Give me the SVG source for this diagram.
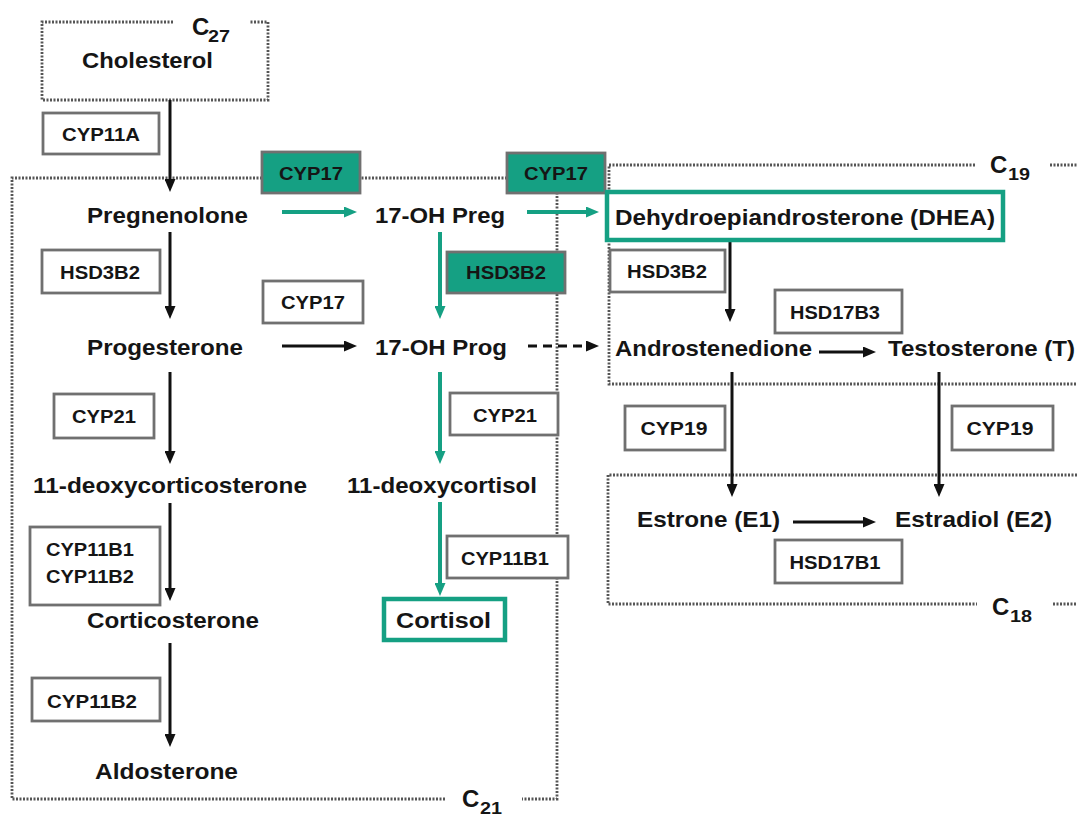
<svg xmlns="http://www.w3.org/2000/svg" width="1077" height="818" viewBox="0 0 1077 818">
<style>
.t{font-family:"Liberation Sans",Arial,Helvetica,sans-serif;font-weight:bold;fill:#151515}
.m{font-size:22px}
.b{font-size:18px;text-anchor:middle}
.c{font-size:24px}
.s{font-size:16px}
.box{fill:#fff;stroke:#707070;stroke-width:2.8}
.gbox{fill:#15a083;stroke:#707070;stroke-width:2.8}
.hl{fill:#fff;stroke:#15a083;stroke-width:4.5}
.dot{fill:none;stroke:#555;stroke-width:2.8;stroke-dasharray:2 1.5}
.ka{fill:none;stroke:#111;stroke-width:3;marker-end:url(#ah)}
.kd{fill:none;stroke:#111;stroke-width:3;stroke-dasharray:9 6;marker-end:url(#ah)}
.ga{fill:none;stroke:#15a083;stroke-width:4;marker-end:url(#gh)}
</style>
<defs>
<marker id="ah" viewBox="0 0 13 11" refX="7" refY="5.5" markerWidth="13" markerHeight="11" markerUnits="userSpaceOnUse" orient="auto">
<path d="M0,0 L13,5.5 L0,11 z" fill="#111"/>
</marker>
<marker id="gh" viewBox="0 0 13 11" refX="7" refY="5.5" markerWidth="13" markerHeight="11" markerUnits="userSpaceOnUse" orient="auto">
<path d="M0,0 L13,5.5 L0,11 z" fill="#15a083"/>
</marker>
</defs>
<rect width="1077" height="818" fill="#fff"/>

<g id="compartments">
<path class="dot" d="M173,22 H42 V100 H268 V22 H250"/>
<text class="t c" x="192" y="35">C</text><text class="t s" x="208" y="42" textLength="22" lengthAdjust="spacingAndGlyphs">27</text>
<path class="dot" d="M445,799 H12 V178 H557 V799 H522"/>
<text class="t c" x="462" y="807">C</text><text class="t s" x="480" y="814" textLength="22" lengthAdjust="spacingAndGlyphs">21</text>
<path class="dot" d="M975,165 H609 V384 H1077 M1050,165 H1077"/>
<text class="t c" x="990" y="173">C</text><text class="t s" x="1008" y="180" textLength="22" lengthAdjust="spacingAndGlyphs">19</text>
<path class="dot" d="M1077,475 H608 V604 H977 M1053,604 H1077"/>
<text class="t c" x="992" y="615">C</text><text class="t s" x="1010" y="622" textLength="22" lengthAdjust="spacingAndGlyphs">18</text>
</g>

<g id="connectors">
<path class="ka" d="M170,100 V186"/>
<path class="ka" d="M170,232 V313"/>
<path class="ka" d="M170,372 V458"/>
<path class="ka" d="M170,503 V595"/>
<path class="ka" d="M170,643 V741"/>
<path class="ka" d="M282,346 H351"/>
<path class="kd" d="M528,346 H593"/>
<path class="ka" d="M730,241 V316"/>
<path class="ka" d="M819,352 H870"/>
<path class="ka" d="M732,372 V491"/>
<path class="ka" d="M939,372 V491"/>
<path class="ka" d="M793,522 H870"/>
<path class="ga" d="M282,212 H351"/>
<path class="ga" d="M527,212 H593"/>
<path class="ga" d="M440,232 V313"/>
<path class="ga" d="M440,372 V458"/>
<path class="ga" d="M440,502 V590"/>
</g>

<g id="cholesterol"><text class="t m" x="82" y="68" textLength="131" lengthAdjust="spacingAndGlyphs">Cholesterol</text></g>
<g id="cyp11a"><rect class="box" x="43" y="113" width="116" height="41"/><text class="t b" x="101" y="141" textLength="78" lengthAdjust="spacingAndGlyphs">CYP11A</text></g>
<g id="pregnenolone"><text class="t m" x="87" y="223" textLength="161" lengthAdjust="spacingAndGlyphs">Pregnenolone</text></g>
<g id="cyp17-a"><rect class="gbox" x="262" y="152" width="98" height="41"/><text class="t b" x="311" y="180" textLength="64" lengthAdjust="spacingAndGlyphs">CYP17</text></g>
<g id="oh-preg"><text class="t m" x="375" y="223" textLength="130" lengthAdjust="spacingAndGlyphs">17-OH Preg</text></g>
<g id="cyp17-b"><rect class="gbox" x="507" y="153" width="98" height="40"/><text class="t b" x="556" y="180" textLength="64" lengthAdjust="spacingAndGlyphs">CYP17</text></g>
<g id="dhea"><rect class="hl" x="607" y="192" width="396" height="48"/><text class="t m" x="615" y="225" textLength="380" lengthAdjust="spacingAndGlyphs">Dehydroepiandrosterone (DHEA)</text></g>
<g id="hsd3b2-a"><rect class="box" x="42" y="250" width="118" height="43"/><text class="t b" x="100" y="279" textLength="80" lengthAdjust="spacingAndGlyphs">HSD3B2</text></g>
<g id="hsd3b2-b"><rect class="gbox" x="447" y="252" width="118" height="41"/><text class="t b" x="506" y="279" textLength="80" lengthAdjust="spacingAndGlyphs">HSD3B2</text></g>
<g id="hsd3b2-c"><rect class="box" x="610" y="250" width="115" height="42"/><text class="t b" x="667" y="278" textLength="80" lengthAdjust="spacingAndGlyphs">HSD3B2</text></g>
<g id="cyp17-c"><rect class="box" x="263" y="281" width="100" height="42"/><text class="t b" x="313" y="309" textLength="64" lengthAdjust="spacingAndGlyphs">CYP17</text></g>
<g id="hsd17b3"><rect class="box" x="775" y="290" width="127" height="43"/><text class="t b" x="835" y="319" textLength="90" lengthAdjust="spacingAndGlyphs">HSD17B3</text></g>
<g id="progesterone"><text class="t m" x="87" y="355" textLength="156" lengthAdjust="spacingAndGlyphs">Progesterone</text></g>
<g id="oh-prog"><text class="t m" x="375" y="355" textLength="132" lengthAdjust="spacingAndGlyphs">17-OH Prog</text></g>
<g id="androstenedione"><text class="t m" x="615" y="356" textLength="197" lengthAdjust="spacingAndGlyphs">Androstenedione</text></g>
<g id="testosterone"><text class="t m" x="888" y="356" textLength="187" lengthAdjust="spacingAndGlyphs">Testosterone (T)</text></g>
<g id="cyp21-a"><rect class="box" x="54" y="394" width="100" height="44"/><text class="t b" x="104" y="423" textLength="64" lengthAdjust="spacingAndGlyphs">CYP21</text></g>
<g id="cyp21-b"><rect class="box" x="450" y="393" width="108" height="42"/><text class="t b" x="505" y="422" textLength="64" lengthAdjust="spacingAndGlyphs">CYP21</text></g>
<g id="cyp19-a"><rect class="box" x="625" y="406" width="100" height="44"/><text class="t b" x="674" y="435" textLength="67" lengthAdjust="spacingAndGlyphs">CYP19</text></g>
<g id="cyp19-b"><rect class="box" x="952" y="406" width="101" height="44"/><text class="t b" x="1000" y="435" textLength="67" lengthAdjust="spacingAndGlyphs">CYP19</text></g>
<g id="deoxycorticosterone"><text class="t m" x="33" y="493" textLength="274" lengthAdjust="spacingAndGlyphs">11-deoxycorticosterone</text></g>
<g id="deoxycortisol"><text class="t m" x="347" y="493" textLength="190" lengthAdjust="spacingAndGlyphs">11-deoxycortisol</text></g>
<g id="estrone"><text class="t m" x="637" y="527" textLength="143" lengthAdjust="spacingAndGlyphs">Estrone (E1)</text></g>
<g id="estradiol"><text class="t m" x="895" y="527" textLength="157" lengthAdjust="spacingAndGlyphs">Estradiol (E2)</text></g>
<g id="hsd17b1"><rect class="box" x="775" y="540" width="127" height="43"/><text class="t b" x="835" y="569" textLength="91" lengthAdjust="spacingAndGlyphs">HSD17B1</text></g>
<g id="cyp11b1-b2"><rect class="box" x="30" y="527" width="130" height="78"/><text class="t b" x="90" y="556" textLength="88" lengthAdjust="spacingAndGlyphs">CYP11B1</text><text class="t b" x="90" y="583" textLength="88" lengthAdjust="spacingAndGlyphs">CYP11B2</text></g>
<g id="cyp11b1"><rect class="box" x="447" y="536" width="121" height="42"/><text class="t b" x="505" y="565" textLength="88" lengthAdjust="spacingAndGlyphs">CYP11B1</text></g>
<g id="corticosterone"><text class="t m" x="87" y="628" textLength="172" lengthAdjust="spacingAndGlyphs">Corticosterone</text></g>
<g id="cortisol"><rect class="hl" x="384" y="599" width="121" height="41"/><text class="t m" x="396" y="628" textLength="95" lengthAdjust="spacingAndGlyphs">Cortisol</text></g>
<g id="cyp11b2"><rect class="box" x="32" y="678" width="128" height="43"/><text class="t b" x="92" y="708" textLength="90" lengthAdjust="spacingAndGlyphs">CYP11B2</text></g>
<g id="aldosterone"><text class="t m" x="95" y="779" textLength="143" lengthAdjust="spacingAndGlyphs">Aldosterone</text></g>
</svg>
